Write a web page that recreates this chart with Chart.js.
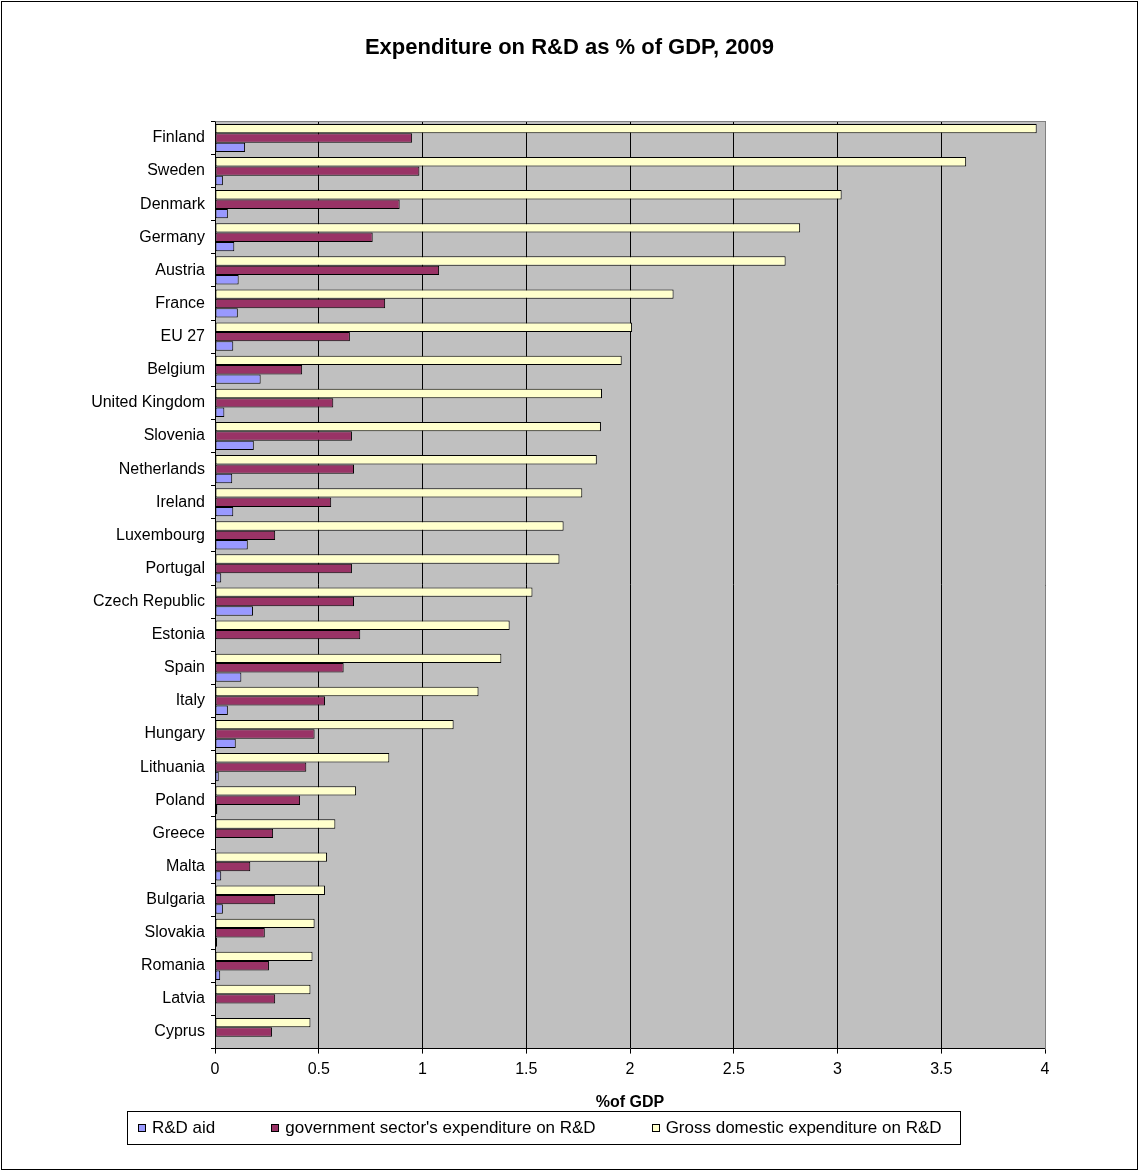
<!DOCTYPE html>
<html>
<head>
<meta charset="utf-8">
<script src="https://cdn.jsdelivr.net/npm/chart.js@4.4.1/dist/chart.umd.min.js"></script>
<style>
  html, body { margin: 0; padding: 0; background: #fff; }
  #wrap { position: relative; width: 1139px; height: 1171px; }
  canvas { display: block; }
</style>
</head>
<body>
<div id="wrap"><canvas id="c" width="1139" height="1171"></canvas></div>
<script>
const categories = ['Finland','Sweden','Denmark','Germany','Austria','France','EU 27','Belgium','United Kingdom','Slovenia','Netherlands','Ireland','Luxembourg','Portugal','Czech Republic','Estonia','Spain','Italy','Hungary','Lithuania','Poland','Greece','Malta','Bulgaria','Slovakia','Romania','Latvia','Cyprus'];

const grossDomestic = [3.96,3.62,3.02,2.82,2.75,2.21,2.01,1.96,1.865,1.86,1.84,1.77,1.68,1.66,1.53,1.42,1.38,1.27,1.15,0.84,0.68,0.58,0.54,0.53,0.48,0.47,0.46,0.46];
const governmentSector = [0.95,0.985,0.89,0.76,1.08,0.82,0.65,0.42,0.57,0.66,0.67,0.56,0.29,0.66,0.67,0.70,0.62,0.53,0.48,0.44,0.41,0.28,0.17,0.29,0.24,0.26,0.29,0.275];
const rdAid = [0.145,0.038,0.062,0.093,0.114,0.11,0.088,0.22,0.045,0.187,0.083,0.088,0.158,0.03,0.183,null,0.127,0.062,0.10,0.018,0.011,null,0.03,0.038,0.01,0.025,null,null];

const xTicks = [0,0.5,1,1.5,2,2.5,3,3.5,4];

const seriesNames = ['Gross domestic expenditure on R&D', "government sector's expenditure on R&D", 'R&D aid'];
const seriesColors = ['#FFFFCC', '#993366', '#9999FF'];

const FONT = '"Liberation Sans", Arial, sans-serif';
Chart.defaults.font.family = FONT;
Chart.defaults.color = '#000';

const framePlugin = {
  id: 'framePlugin',
  beforeDraw(chart) {
    const ctx = chart.ctx;
    ctx.save();
    ctx.fillStyle = '#fff';
    ctx.fillRect(0, 0, chart.width, chart.height);
    const a = chart.chartArea;
    ctx.fillStyle = '#C0C0C0';
    ctx.fillRect(a.left, a.top, a.right - a.left, a.bottom - a.top);
    ctx.restore();
  },
  afterDraw(chart) {
    const ctx = chart.ctx;
    const a = chart.chartArea;
    ctx.save();
    ctx.strokeStyle = '#808080';
    ctx.lineWidth = 1;
    ctx.beginPath();
    ctx.moveTo(Math.round(a.left) + 0.5, Math.round(a.top) + 0.5);
    ctx.lineTo(Math.round(a.right) + 0.5, Math.round(a.top) + 0.5);
    ctx.lineTo(Math.round(a.right) + 0.5, Math.round(a.bottom) + 0.5);
    ctx.stroke();

    // legend: R&D aid, government, gross (reverse of dataset order), right-anchored box
    const order = [2, 1, 0];
    ctx.font = '17px ' + FONT;
    ctx.textBaseline = 'middle';
    const widths = order.map(i => ctx.measureText(chart.data.datasets[i].label).width);
    const sw = 8, gapText = 6, gapItem = 56, padL = 11, padR = 18;
    const content = widths.reduce((s, w) => s + w + sw + gapText, 0) + gapItem * (order.length - 1);
    const boxR = 960, boxT = 1111, boxB = 1144;
    const boxL = Math.round(boxR - padR - content - padL);
    ctx.strokeStyle = '#000';
    ctx.strokeRect(boxL + 0.5, boxT + 0.5, boxR - boxL, boxB - boxT);
    const cy = (boxT + boxB) / 2;
    let x = boxL + padL;
    order.forEach((i, k) => {
      const ds = chart.data.datasets[i];
      ctx.fillStyle = ds.backgroundColor;
      ctx.fillRect(Math.round(x), Math.round(cy - 4), sw, sw);
      ctx.strokeStyle = '#000';
      ctx.strokeRect(Math.round(x) + 0.5, Math.round(cy - 4) + 0.5, sw - 1, sw - 1);
      ctx.fillStyle = '#000';
      ctx.fillText(ds.label, x + sw + gapText, cy + 1);
      x += sw + gapText + widths[k] + gapItem;
    });

    ctx.strokeStyle = '#000';
    ctx.strokeRect(1.5, 1.5, chart.width - 3, chart.height - 3);
    ctx.restore();
  }
};

new Chart(document.getElementById('c'), {
  type: 'bar',
  data: {
    labels: categories,
    datasets: [
      { label: seriesNames[0], data: grossDomestic, backgroundColor: seriesColors[0] },
      { label: seriesNames[1], data: governmentSector, backgroundColor: seriesColors[1] },
      { label: seriesNames[2], data: rdAid, backgroundColor: seriesColors[2] }
    ]
  },
  options: {
    indexAxis: 'y',
    responsive: false,
    animation: false,
    devicePixelRatio: 1,
    datasets: {
      bar: {
        borderColor: '#000',
        borderWidth: 1,
        borderSkipped: false,
        categoryPercentage: 0.85,
        barPercentage: 1.0
      }
    },
    layout: { padding: { left: 0, right: 0, top: 0, bottom: 59 } },
    scales: {
      x: {
        min: 0, max: 4,
        afterBuildTicks(scale) { scale.ticks = xTicks.map(v => ({ value: v })); },
        ticks: { font: { size: 16 }, padding: 6, callback: v => String(v) },
        grid: { color: '#000', lineWidth: 1, tickLength: 5, drawOnChartArea: true, drawTicks: true },
        border: { color: '#000', width: 1 },
        title: { display: true, text: '%of GDP', font: { size: 16, weight: 'bold' }, padding: { top: 8, bottom: 0 } }
      },
      y: {
        afterFit(scale) { scale.width = 215; },
        ticks: { font: { size: 16 }, padding: 6 },
        grid: { offset: true, drawOnChartArea: false, tickLength: 4, color: '#000' },
        border: { color: '#000', width: 1 }
      },
      yRight: {
        type: 'linear',
        position: 'right',
        display: true,
        afterFit(scale) { scale.width = 94; },
        grid: { display: false, drawOnChartArea: false },
        border: { display: false },
        ticks: { display: false }
      }
    },
    plugins: {
      title: {
        display: true,
        text: 'Expenditure on R&D as % of GDP, 2009',
        font: { size: 22, weight: 'bold' },
        padding: { top: 35, bottom: 60 }
      },
      legend: { display: false },
      tooltip: { enabled: false }
    }
  },
  plugins: [framePlugin]
});
</script>
</body>
</html>
